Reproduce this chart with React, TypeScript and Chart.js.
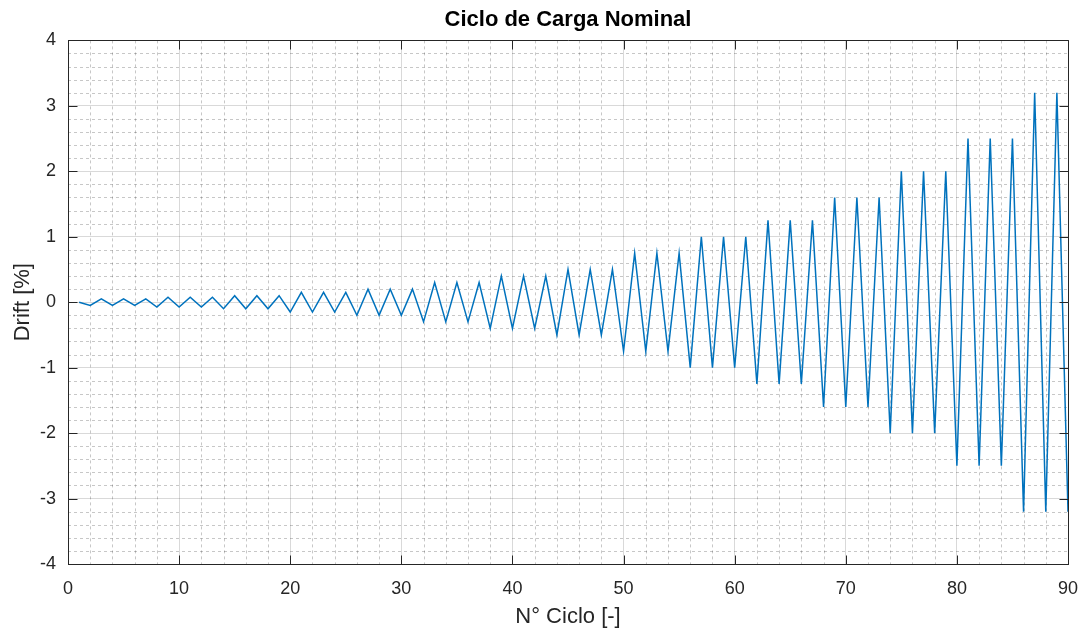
import React, { useEffect, useRef } from 'react';
import { Chart, registerables } from 'chart.js';

Chart.register(...registerables);

// N° Ciclo (x)
const cycles = [
  1, 2, 3, 4, 5, 6, 7, 8, 9, 10,
  11, 12, 13, 14, 15, 16, 17, 18, 19, 20,
  21, 22, 23, 24, 25, 26, 27, 28, 29, 30,
  31, 32, 33, 34, 35, 36, 37, 38, 39, 40,
  41, 42, 43, 44, 45, 46, 47, 48, 49, 50,
  51, 52, 53, 54, 55, 56, 57, 58, 59, 60,
  61, 62, 63, 64, 65, 66, 67, 68, 69, 70,
  71, 72, 73, 74, 75, 76, 77, 78, 79, 80,
  81, 82, 83, 84, 85, 86, 87, 88, 89, 90,
];

// Drift [%] (y)
const drift = [
  0,
  -0.05, 0.05, -0.05, 0.05, -0.05, 0.05,
  -0.075, 0.075, -0.075, 0.075, -0.075, 0.075,
  -0.1, 0.1, -0.1, 0.1, -0.1, 0.1,
  -0.15, 0.15, -0.15, 0.15, -0.15, 0.15,
  -0.2, 0.2, -0.2, 0.2, -0.2, 0.2,
  -0.3, 0.3, -0.3, 0.3, -0.3, 0.3,
  -0.4, 0.4, -0.4, 0.4, -0.4, 0.4,
  -0.5, 0.5, -0.5, 0.5, -0.5, 0.5,
  -0.75, 0.75, -0.75, 0.75, -0.75, 0.75,
  -1.0, 1.0, -1.0, 1.0, -1.0, 1.0,
  -1.25, 1.25, -1.25, 1.25, -1.25, 1.25,
  -1.6, 1.6, -1.6, 1.6, -1.6, 1.6,
  -2.0, 2.0, -2.0, 2.0, -2.0, 2.0,
  -2.5, 2.5, -2.5, 2.5, -2.5, 2.5,
  -3.2, 3.2, -3.2, 3.2, -3.2,
];

const xTicks = [0, 10, 20, 30, 40, 50, 60, 70, 80, 90];
const yTicks = [-4, -3, -2, -1, 0, 1, 2, 3, 4];

const AXIS_COLOR = '#262626';
const FONT = "'Liberation Sans', Arial, Helvetica, sans-serif";

const crisp = (v: number) => Math.round(v) + 0.5;

const matlabAxesPlugin = {
  id: 'matlabAxes',
  beforeDatasetsDraw(chart: any) {
    const { ctx, chartArea: a, scales } = chart;
    const x = scales.x;
    const y = scales.y;
    ctx.save();
    ctx.strokeStyle = 'rgba(0,0,0,0.22)';
    ctx.lineWidth = 1;
    ctx.setLineDash([3, 3]);
    ctx.beginPath();
    const xMinor = 2;
    for (let v = x.min + xMinor; v < x.max - 1e-9; v += xMinor) {
      if (xTicks.includes(Math.round(v))) continue;
      const px = crisp(x.getPixelForValue(v));
      ctx.moveTo(px, a.top);
      ctx.lineTo(px, a.bottom);
    }
    const yMinor = 0.2;
    for (let i = 1; i < Math.round((y.max - y.min) / yMinor); i++) {
      const v = y.min + i * yMinor;
      if (i % 5 === 0) continue;
      const py = crisp(y.getPixelForValue(v));
      ctx.moveTo(a.left, py);
      ctx.lineTo(a.right, py);
    }
    ctx.stroke();
    ctx.restore();
  },
  afterDatasetsDraw(chart: any) {
    const { ctx, chartArea: a, scales } = chart;
    const x = scales.x;
    const y = scales.y;
    const L = crisp(a.left);
    const R = crisp(a.right);
    const T = crisp(a.top);
    const B = crisp(a.bottom);
    const tl = 9;
    ctx.save();
    ctx.strokeStyle = AXIS_COLOR;
    ctx.lineWidth = 1;
    ctx.setLineDash([]);
    ctx.beginPath();
    ctx.rect(L, T, R - L, B - T);
    for (const v of xTicks) {
      const px = crisp(x.getPixelForValue(v));
      ctx.moveTo(px, B);
      ctx.lineTo(px, B - tl);
      ctx.moveTo(px, T);
      ctx.lineTo(px, T + tl);
    }
    for (const v of yTicks) {
      const py = crisp(y.getPixelForValue(v));
      ctx.moveTo(L, py);
      ctx.lineTo(L + tl, py);
      ctx.moveTo(R, py);
      ctx.lineTo(R - tl, py);
    }
    ctx.stroke();
    ctx.restore();
  },
};

export default function App() {
  const canvasRef = useRef<HTMLCanvasElement | null>(null);

  useEffect(() => {
    document.body.style.margin = '0';
    const canvas = canvasRef.current;
    if (!canvas) return;
    const chart = new Chart(canvas, {
      type: 'line',
      data: {
        datasets: [
          {
            label: 'Drift',
            data: cycles.map((c, i) => ({ x: c, y: drift[i] })),
            borderColor: '#0072BD',
            borderWidth: 1.5,
            pointRadius: 0,
            tension: 0,
            fill: false,
          },
        ],
      },
      options: {
        responsive: false,
        animation: false,
        devicePixelRatio: 1,
        layout: { padding: { left: 0, right: 20, top: 0, bottom: 0 } },
        plugins: {
          legend: { display: false },
          tooltip: { enabled: false },
          title: {
            display: true,
            text: 'Ciclo de Carga Nominal',
            fullSize: false,
            color: '#000000',
            font: { family: FONT, size: 22, weight: 'bold' },
            padding: { top: 7, bottom: 7 },
          },
        },
        scales: {
          x: {
            type: 'linear',
            min: 0,
            max: 90,
            afterFit: (s: any) => {
              s.height = 69;
              s.paddingLeft = 0;
              s.paddingRight = 0;
            },
            afterBuildTicks: (s: any) => {
              s.ticks = xTicks.map((v) => ({ value: v }));
            },
            ticks: {
              color: AXIS_COLOR,
              font: { family: FONT, size: 18 },
              padding: 14,
              maxRotation: 0,
              autoSkip: false,
              callback: (v: any) => String(v),
            },
            grid: {
              color: 'rgba(0,0,0,0.15)',
              lineWidth: 1,
              drawTicks: false,
              tickLength: 0,
            },
            border: { display: true, color: AXIS_COLOR, width: 1 },
            title: {
              display: true,
              text: 'N° Ciclo [-]',
              color: AXIS_COLOR,
              font: { family: FONT, size: 22 },
              padding: { top: 0, bottom: 3 },
            },
          },
          y: {
            type: 'linear',
            min: -4,
            max: 4,
            afterFit: (s: any) => {
              s.width = 68;
              s.paddingTop = 0;
              s.paddingBottom = 0;
            },
            afterBuildTicks: (s: any) => {
              s.ticks = yTicks.map((v) => ({ value: v }));
            },
            ticks: {
              color: AXIS_COLOR,
              font: { family: FONT, size: 18 },
              padding: 12,
              autoSkip: false,
              callback: (v: any) => String(v),
            },
            grid: {
              color: 'rgba(0,0,0,0.15)',
              lineWidth: 1,
              drawTicks: false,
              tickLength: 0,
            },
            border: { display: true, color: AXIS_COLOR, width: 1 },
            title: {
              display: true,
              text: 'Drift [%]',
              color: AXIS_COLOR,
              font: { family: FONT, size: 22 },
              padding: { top: 10, bottom: 0 },
            },
          },
        },
      },
      plugins: [matlabAxesPlugin],
    });
    return () => {
      chart.destroy();
    };
  }, []);

  return (
    <div style={{ position: 'absolute', left: 0, top: 0, width: 1088, height: 633, background: '#ffffff' }}>
      <canvas ref={canvasRef} width={1088} height={633} style={{ display: 'block' }} />
    </div>
  );
}
